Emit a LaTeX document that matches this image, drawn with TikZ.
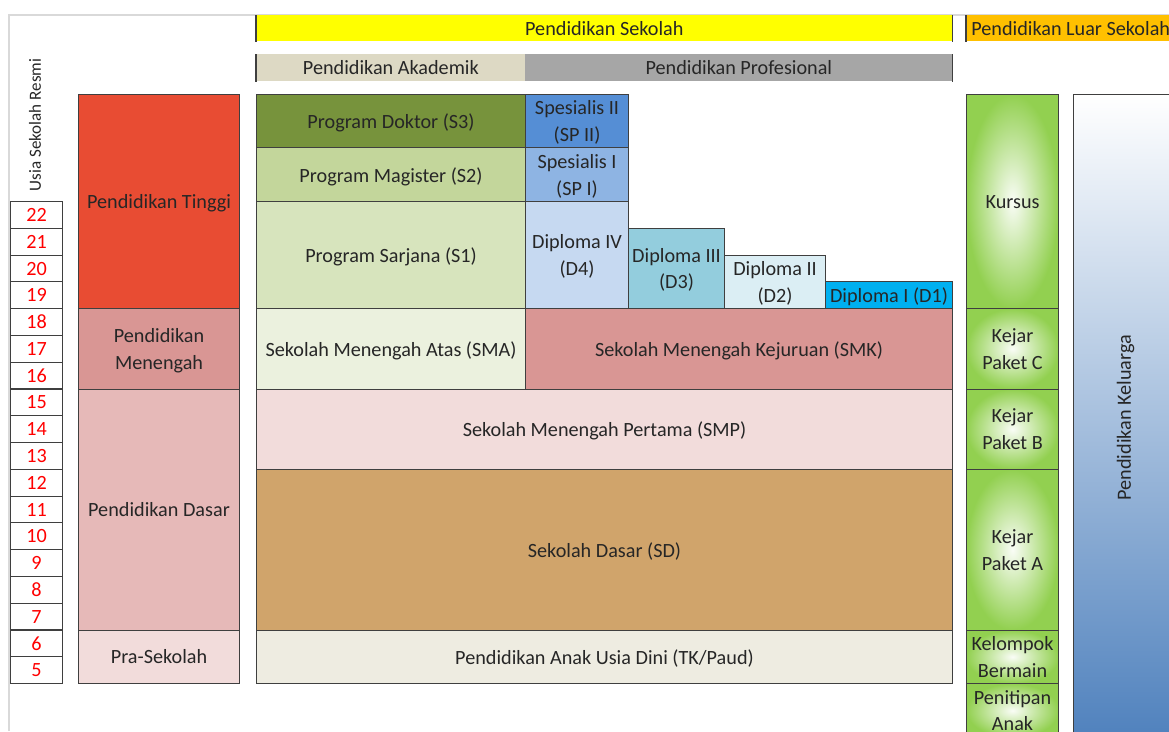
\documentclass[tikz,border=0pt]{standalone}
\usepackage{fontspec}
\setmainfont{Carlito}
\usepackage{tikz}
\definecolor{sekolahY}{HTML}{FFFF00}
\definecolor{luarO}{HTML}{FFC000}
\definecolor{akademikC}{HTML}{DDD9C4}
\definecolor{profesiC}{HTML}{A6A6A6}
\definecolor{tinggiC}{HTML}{E84C33}
\definecolor{menengahC}{HTML}{D99694}
\definecolor{dasarC}{HTML}{E6B9B8}
\definecolor{prasekC}{HTML}{F2DCDB}
\definecolor{doktorC}{HTML}{77933C}
\definecolor{magisterC}{HTML}{C3D69B}
\definecolor{sarjanaC}{HTML}{D7E4BD}
\definecolor{spduaC}{HTML}{558ED5}
\definecolor{spsatuC}{HTML}{8EB4E3}
\definecolor{dempatC}{HTML}{C6D9F1}
\definecolor{dtigaC}{HTML}{93CDDD}
\definecolor{dduaC}{HTML}{DBEEF4}
\definecolor{dsatuC}{HTML}{00B0F0}
\definecolor{smaC}{HTML}{EBF1DE}
\definecolor{smpC}{HTML}{F2DCDB}
\definecolor{sdC}{HTML}{D0A46B}
\definecolor{paudC}{HTML}{EEECE1}
\definecolor{hijauC}{HTML}{92D050}
\definecolor{keluargaC}{HTML}{4F81BD}
\definecolor{garisC}{HTML}{3F3F3F}
\tikzstyle{cell} = [draw=garisC, line width=0.6pt, anchor=north west, inner sep=1pt, align=center, text depth=0pt, text=black!85, font=\fontsize{11.5}{15.3}\selectfont]
\tikzstyle{age} = [cell, text=red]
\tikzstyle{head} = [anchor=north west, inner sep=0pt, text=black!85, font=\fontsize{11.5}{15.3}\selectfont]
\tikzstyle{kejar} = [cell, inner color=hijauC!5!white, outer color=hijauC]
\tikzstyle{rule} = [draw=garisC, line width=0.8pt]
\tikzstyle{frame} = [draw=black!15, line width=0.6pt]
\tikzset{size/.style 2 args={minimum width=#1*0.02cm, minimum height=#2*0.02cm}}

\begin{document}
\begin{tikzpicture}[x=0.02cm, y=-0.02cm]
    \useasboundingbox (0,0) rectangle (1169,731);
    \clip (0,0) rectangle (1169,731);
    \draw[frame] (9,731) -- (9,15) -- (1169,15);

    % headers
    \node[head, fill=sekolahY, size={696}{26}] at (256,15) (sek) {Pendidikan Sekolah};
    \node[head, fill=luarO, size={214}{26},
        label={[head, anchor=west, inner xsep=0.1cm]west:Pendidikan Luar Sekolah}] at (966,15) (luar) {};
    \node[head, fill=akademikC, size={269}{27}] at (256,54) (akad) {Pendidikan Akademik};
    \node[head, fill=profesiC, size={427}{27}] at (525,54) (prof) {Pendidikan Profesional};
    \draw[rule] (sek.north west) -- (sek.south west);
    \draw[rule] (sek.north east) -- (sek.south east);
    \draw[rule] (luar.north west) -- (luar.south west);
    \draw[rule] (akad.north west) -- (akad.south west);
    \draw[rule] (prof.north east) -- (prof.south east);

    % ages
    \node[head, rotate=90, anchor=center, font=\fontsize{9.7}{12}\selectfont] at (35,125) (usia) {Usia Sekolah Resmi};
    \foreach \a [count=\i from 0] in {22,21,...,5}
        \node[age, size={52}{26.78}] at (10,{201+\i*26.78}) (age\a) {\a};

    % jenjang
    \node[cell, fill=tinggiC, size={161}{214}] at (78,94) (tinggi) {Pendidikan Tinggi};
    \node[cell, fill=menengahC, size={161}{80.5}] at (78,308) (menengah) {Pendidikan\\Menengah};
    \node[cell, fill=dasarC, size={161}{241}] at (78,388.5) (dasar) {Pendidikan Dasar};
    \node[cell, fill=prasekC, size={161}{53.5}] at (78,629.5) (prasek) {Pra-Sekolah};

    % pendidikan sekolah
    \node[cell, fill=doktorC, size={269}{53.4}] at (256,94) (s3) {Program Doktor (S3)};
    \node[cell, fill=magisterC, size={269}{53.6}] at (256,147.4) (s2) {Program Magister (S2)};
    \node[cell, fill=sarjanaC, size={269}{107}] at (256,201) (s1) {Program Sarjana (S1)};
    \node[cell, fill=spduaC, size={103}{53.4}] at (525,94) (sp2) {Spesialis II\\(SP II)};
    \node[cell, fill=spsatuC, size={103}{53.6}] at (525,147.4) (sp1) {Spesialis I\\(SP I)};
    \node[cell, fill=dempatC, size={103}{107}] at (525,201) (d4) {Diploma IV\\(D4)};
    \node[cell, fill=dtigaC, size={96}{80}] at (628,228) (d3) {Diploma III\\(D3)};
    \node[cell, fill=dduaC, size={101}{53.4}] at (724,254.6) (d2) {Diploma II\\(D2)};
    \node[cell, fill=dsatuC, size={127}{26.7}] at (825,281.3) (d1) {Diploma I (D1)};
    \node[cell, fill=smaC, size={269}{80.5}] at (256,308) (sma) {Sekolah Menengah Atas (SMA)};
    \node[cell, fill=menengahC, size={427}{80.5}] at (525,308) (smk) {Sekolah Menengah Kejuruan (SMK)};
    \node[cell, fill=smpC, size={696}{80.5}] at (256,388.5) (smp) {Sekolah Menengah Pertama (SMP)};
    \node[cell, fill=sdC, size={696}{160.5}] at (256,469) (sd) {Sekolah Dasar (SD)};
    \node[cell, fill=paudC, size={696}{53.5}] at (256,629.5) (paud) {Pendidikan Anak Usia Dini (TK/Paud)};

    % pendidikan luar sekolah
    \node[kejar, size={92}{214}] at (966,94) (kursus) {Kursus};
    \node[kejar, size={92}{80.5}] at (966,308) (paketC) {Kejar\\Paket C};
    \node[kejar, size={92}{80.5}] at (966,388.5) (paketB) {Kejar\\Paket B};
    \node[kejar, size={92}{160.5}] at (966,469) (paketA) {Kejar\\Paket A};
    \node[kejar, size={92}{53.5}] at (966,629.5) (kb) {Kelompok\\Bermain};
    \node[kejar, size={92}{54}] at (966,683) (tpa) {Penitipan\\Anak};
    \node[cell, top color=white, bottom color=keluargaC, size={104}{646}] at (1073,94) (keluarga) {};
    \node[head, rotate=90, anchor=center] at (keluarga.center) (kelText) {Pendidikan Keluarga};
\end{tikzpicture}
\end{document}
